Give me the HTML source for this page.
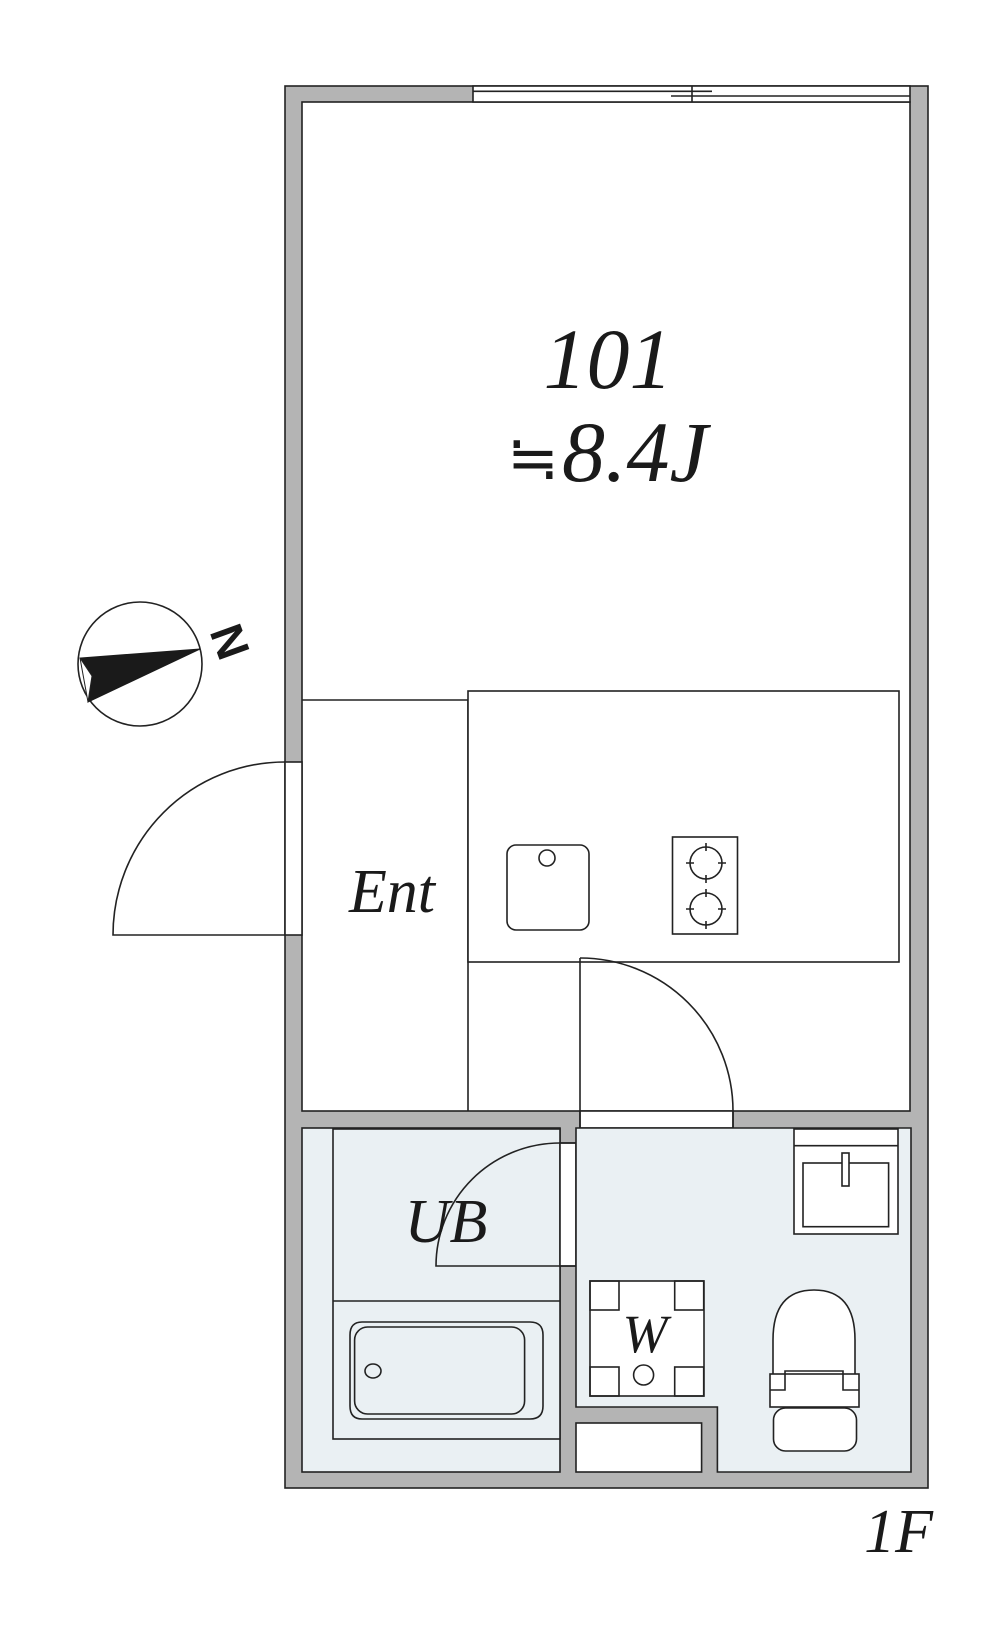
<!DOCTYPE html>
<html><head><meta charset="utf-8"><style>
html,body{margin:0;padding:0;background:#fff;}
svg{display:block;}
.t{font-family:"Liberation Serif",serif;font-style:italic;fill:#1a1a1a;}
</style></head><body>
<svg width="1008" height="1631" viewBox="0 0 1008 1631" xmlns="http://www.w3.org/2000/svg">
<g stroke="#222" stroke-width="1.6" fill="none">
<rect x="285" y="86" width="643" height="1402" fill="#b4b4b4"/>
<rect x="302" y="102" width="608" height="1009" fill="#fff"/>
<rect x="473" y="86" width="437" height="16" fill="#fff"/>
<line x1="473" y1="91.3" x2="712" y2="91.3"/>
<line x1="671" y1="96" x2="910" y2="96"/>
<line x1="692" y1="86" x2="692" y2="102"/>
<rect x="285" y="762" width="17" height="173" fill="#fff"/>
<path d="M285 935 L113 935 A172 173 0 0 1 285 762"/>
<line x1="302" y1="700" x2="468" y2="700"/>
<line x1="468" y1="700" x2="468" y2="1111"/>
<rect x="468" y="691" width="431" height="271" fill="#fff"/>
<rect x="507" y="845" width="82" height="85" rx="9" fill="#fff"/>
<ellipse cx="547" cy="858" rx="8" ry="8"/>
<rect x="672.5" y="837" width="65" height="97" fill="#fff"/>
<circle cx="706" cy="863" r="16"/>
<circle cx="706" cy="909" r="16"/>
<path d="M706 843v8M706 875v8M686 863h8M718 863h8M706 889v8M706 921v8M686 909h8M718 909h8"/>
<rect x="580" y="1111" width="153" height="17" fill="#fff"/>
<line x1="580" y1="958" x2="580" y2="1128"/>
<path d="M580 958 A153 153 0 0 1 733 1111 L733 1128"/>
<rect x="302" y="1128" width="258" height="344" fill="#eaf0f3"/>
<rect x="333" y="1129" width="227" height="310" fill="#eaf0f3"/>
<line x1="333" y1="1301" x2="560" y2="1301"/>
<path d="M362 1322 L530 1322 Q543 1322 543 1335 L543 1406 Q543 1419 530 1419 L362 1419 Q350 1419 350 1406 L350 1335 Q350 1322 362 1322 Z"/>
<rect x="354.6" y="1327" width="170" height="87" rx="13"/>
<ellipse cx="373" cy="1371" rx="8" ry="7"/>
<rect x="560" y="1143" width="16" height="123" fill="#fff"/>
<path d="M576 1266 L436 1266 A124 123 0 0 1 560 1143 L576 1143"/>
<path d="M576 1128 L911 1128 L911 1472 L717.4 1472 L717.4 1407 L576 1407 Z" fill="#eaf0f3"/>
<rect x="576" y="1423" width="125.6" height="49" fill="#fff"/>
<rect x="794" y="1129" width="104" height="105" fill="#fff"/>
<line x1="794" y1="1145.7" x2="898" y2="1145.7"/>
<rect x="803" y="1163" width="85.6" height="63.7" fill="#fff"/>
<rect x="842" y="1153" width="7" height="33" fill="#fff"/>
<rect x="590" y="1281" width="114" height="115" fill="#fff"/>
<rect x="590" y="1281" width="29" height="29"/>
<rect x="674.7" y="1281" width="29" height="29"/>
<rect x="590" y="1367" width="29" height="29"/>
<rect x="674.7" y="1367" width="29" height="29"/>
<circle cx="643.6" cy="1375" r="10"/>
<path d="M773 1374 L773 1340 Q773 1290 814 1290 Q855 1290 855 1340 L855 1374" fill="#fff"/>
<rect x="770" y="1374" width="89" height="33" fill="#fff"/>
<path d="M770 1390 h15 v-19 h58 v19 h16"/>
<rect x="773.5" y="1408" width="83" height="43" rx="12" fill="#fff"/>
<circle cx="140" cy="664" r="62" fill="#fff"/>
</g>
<polygon points="200,649 80,658 92,676 88,702" fill="#1a1a1a" stroke="#1a1a1a" stroke-width="1"/>
<polygon points="80,658 92,676 88,702" fill="#fff" stroke="#222" stroke-width="1"/>
<text x="229" y="657" font-family="Liberation Sans,sans-serif" font-size="46" font-weight="bold" fill="#1a1a1a" text-anchor="middle" transform="rotate(70 229 642)">N</text>
<text class="t" x="608" y="388" font-size="86" text-anchor="middle">101</text>
<text x="533" y="479" font-family="DejaVu Sans,sans-serif" font-size="62" fill="#1a1a1a" text-anchor="middle">≒</text>
<text class="t" x="562" y="481" font-size="86">8.4J</text>
<text class="t" x="392" y="912" font-size="62" text-anchor="middle">Ent</text>
<text class="t" x="446" y="1242" font-size="62" text-anchor="middle">UB</text>
<text class="t" x="645" y="1352" font-size="54" text-anchor="middle">W</text>
<text class="t" x="933" y="1552" font-size="62" text-anchor="end">1F</text>
</svg>
</body></html>
